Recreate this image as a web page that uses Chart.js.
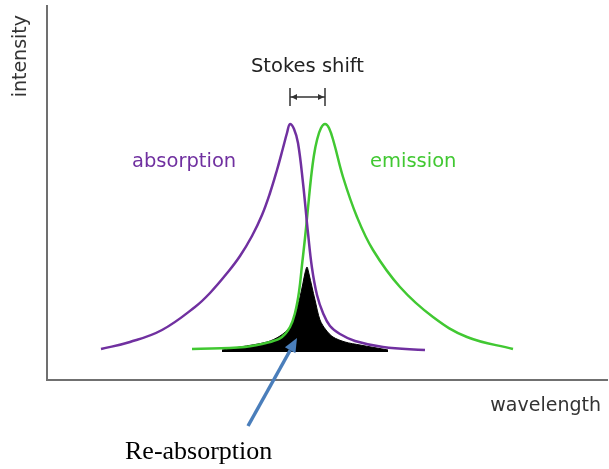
<!DOCTYPE html>
<html>
<head>
<meta charset="utf-8">
<script src="https://cdn.jsdelivr.net/npm/chart.js@4.4.1/dist/chart.umd.min.js"></script>
<style>
  html, body { margin: 0; padding: 0; background: #fff; }
  #wrap { width: 609px; height: 469px; }
</style>
</head>
<body>
<div id="wrap"><canvas id="spectra" width="609" height="469"></canvas></div>
<script>
// Values (arbitrary wavelength / intensity units)
const absorptionX = [54, 83, 115, 148, 163, 181, 193, 205, 215, 223, 230, 236, 240, 243, 247, 251, 256, 261, 265, 270, 276, 283, 293, 308, 336, 378];
const absorptionY = [31, 38, 50, 73, 87, 108, 124, 144, 165, 187, 210, 232, 247, 256, 251, 237, 197, 147, 112, 85, 67, 54, 46, 39, 33, 30];

const emissionX = [145, 198, 223, 235, 243, 248, 252, 255, 258, 261, 264, 267, 270, 274, 278, 282, 287, 296, 310, 326, 353, 386, 420, 466];
const emissionY = [31, 33, 38, 43, 53, 67, 88, 115, 142, 172, 202, 225, 240, 252, 256, 252, 237, 203, 163, 130, 93, 63, 43, 31];

// re-absorbed part (overlap of the two bands)
const overlapX = [175, 193, 220, 233, 243, 249, 253, 256, 258, 260, 262, 265, 268, 273, 279, 286, 298, 313, 341];
const overlapY = [30, 33, 38, 44, 53, 68, 83, 97, 107, 113, 106, 93, 80, 60, 50, 43, 38, 35, 30];
const overlapBase = 28;

const toPoints = (xs, ys) => xs.map((x, i) => ({ x: x, y: ys[i] }));

const PURPLE = '#7030a0';
const GREEN = '#41c832';
const AXIS = '#707070';
const FONT = '"DejaVu Sans", sans-serif';

// axis names, labels, bracket and arrow on top of the chart
const annotations = {
    id: 'annotations',
    afterDraw(chart) {
        const ctx = chart.ctx;
        const xs = chart.scales.x;
        ctx.save();

        ctx.font = '19.5px ' + FONT;
        ctx.textBaseline = 'alphabetic';
        ctx.textAlign = 'left';
        ctx.fillStyle = PURPLE;
        ctx.fillText('absorption', 132, 167);
        ctx.fillStyle = GREEN;
        ctx.fillText('emission', 370, 167);

        // axis names
        ctx.fillStyle = '#333';
        ctx.font = '19px ' + FONT;
        ctx.textAlign = 'right';
        ctx.fillText('wavelength', 601, 411);
        ctx.save();
        ctx.translate(21, 15);
        ctx.rotate(-Math.PI / 2);
        ctx.textBaseline = 'middle';
        ctx.fillText('intensity', 0, 0);
        ctx.restore();

        // Stokes shift bracket between the two maxima
        const peakA = absorptionX[absorptionY.indexOf(Math.max(...absorptionY))];
        const peakE = emissionX[emissionY.indexOf(Math.max(...emissionY))];
        const x1 = xs.getPixelForValue(peakA);
        const x2 = xs.getPixelForValue(peakE);
        const yb = 97;
        ctx.strokeStyle = '#333';
        ctx.fillStyle = '#333';
        ctx.lineWidth = 1.5;
        ctx.beginPath();
        ctx.moveTo(x1, yb - 9); ctx.lineTo(x1, yb + 9);
        ctx.moveTo(x2, yb - 9); ctx.lineTo(x2, yb + 9);
        ctx.moveTo(x1, yb); ctx.lineTo(x2, yb);
        ctx.stroke();
        ctx.beginPath();
        ctx.moveTo(x1 + 1, yb); ctx.lineTo(x1 + 7, yb - 3); ctx.lineTo(x1 + 7, yb + 3); ctx.closePath();
        ctx.moveTo(x2 - 1, yb); ctx.lineTo(x2 - 7, yb - 3); ctx.lineTo(x2 - 7, yb + 3); ctx.closePath();
        ctx.fill();

        ctx.fillStyle = '#222';
        ctx.textAlign = 'center';
        ctx.font = '19.5px ' + FONT;
        ctx.fillText('Stokes shift', (x1 + x2) / 2, 72);

        // blue arrow to the re-absorbed area
        const ax = 248, ay = 426, bx = 297, by = 338;
        const ang = Math.atan2(by - ay, bx - ax);
        const head = 14, half = 6;
        const hx = bx - head * Math.cos(ang), hy = by - head * Math.sin(ang);
        ctx.strokeStyle = '#4a7ebb';
        ctx.fillStyle = '#4a7ebb';
        ctx.lineWidth = 3.5;
        ctx.beginPath();
        ctx.moveTo(ax, ay); ctx.lineTo(hx, hy);
        ctx.stroke();
        ctx.beginPath();
        ctx.moveTo(bx, by);
        ctx.lineTo(hx + half * Math.sin(ang), hy - half * Math.cos(ang));
        ctx.lineTo(hx - half * Math.sin(ang), hy + half * Math.cos(ang));
        ctx.closePath();
        ctx.fill();

        ctx.fillStyle = '#000';
        ctx.textAlign = 'left';
        ctx.font = '26px "Liberation Serif", "Times New Roman", serif';
        ctx.fillText('Re-absorption', 125, 459);

        ctx.restore();
    }
};

const ctx = document.getElementById('spectra').getContext('2d');

new Chart(ctx, {
    type: 'line',
    data: {
        datasets: [
            {
                label: 'absorption',
                data: toPoints(absorptionX, absorptionY),
                borderColor: PURPLE,
                borderWidth: 2.5,
                pointRadius: 0,
                fill: false,
                tension: 0.4,
                order: 1
            },
            {
                label: 'emission',
                data: toPoints(emissionX, emissionY),
                borderColor: GREEN,
                borderWidth: 2.5,
                pointRadius: 0,
                fill: false,
                tension: 0.4,
                order: 2
            },
            {
                label: 're-absorption',
                data: toPoints(overlapX, overlapY),
                borderColor: '#000',
                backgroundColor: '#000',
                borderWidth: 1,
                pointRadius: 0,
                fill: { value: overlapBase },
                tension: 0.3,
                order: 3
            }
        ]
    },
    options: {
        responsive: false,
        animation: false,
        layout: { padding: { top: 6, right: 2, left: 0, bottom: 0 } },
        plugins: {
            legend: { display: false },
            tooltip: { enabled: false }
        },
        scales: {
            x: {
                type: 'linear',
                min: 0,
                max: 560,
                grid: { display: false },
                border: { display: true, color: AXIS, width: 2 },
                ticks: { display: false },
                afterFit(scale) { scale.height = 89; }
            },
            y: {
                type: 'linear',
                min: 0,
                max: 374,
                grid: { display: false },
                border: { display: true, color: AXIS, width: 2 },
                ticks: { display: false },
                afterFit(scale) { scale.width = 47; }
            }
        }
    },
    plugins: [annotations]
});
</script>
</body>
</html>
